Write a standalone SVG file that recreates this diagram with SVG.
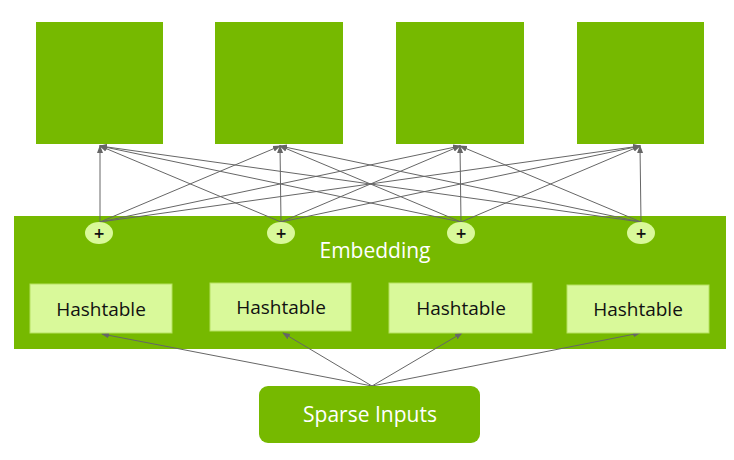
<svg xmlns="http://www.w3.org/2000/svg" width="734" height="460" viewBox="0 0 734 460">
<style>
.g{fill:#76b900}
.h{fill:#d9f99a;stroke:#b5e261;stroke-width:1}
.ht{font-family:"Open Sans","DejaVu Sans",sans-serif;font-size:19px;fill:#111;text-anchor:middle}
.w{font-family:"Open Sans","DejaVu Sans",sans-serif;fill:#fff;text-anchor:middle}
.c{stroke:#666;stroke-width:1;fill:none;marker-end:url(#a)}
.p{fill:#d9f99a}
.pt{font-family:"DejaVu Sans",sans-serif;font-size:14px;font-weight:bold;fill:#111;text-anchor:middle}
</style>
<defs><marker id="a" markerWidth="8" markerHeight="8" refX="7" refY="4" orient="auto" markerUnits="userSpaceOnUse"><path d="M0,1 L8,4 L0,7 Z" fill="#666"/></marker></defs>
<g id="out1"><rect class="g" x="36" y="22" width="127" height="122"/></g>
<g id="out2"><rect class="g" x="215" y="22" width="128" height="122"/></g>
<g id="out3"><rect class="g" x="396" y="22" width="128" height="122"/></g>
<g id="out4"><rect class="g" x="577" y="22" width="127" height="122"/></g>
<g id="embedding"><rect class="g" x="14" y="216" width="712" height="133"/>
<text class="w" x="375" y="258" font-size="21">Embedding</text></g>
<g id="connectors">
<path class="c" d="M100,222 L100,146"/><path class="c" d="M100,222 L280,146"/><path class="c" d="M100,222 L460,146"/><path class="c" d="M100,222 L640,146"/>
<path class="c" d="M281,222 L100,146"/><path class="c" d="M281,222 L280,146"/><path class="c" d="M281,222 L460,146"/><path class="c" d="M281,222 L640,146"/>
<path class="c" d="M461,222 L100,146"/><path class="c" d="M461,222 L280,146"/><path class="c" d="M461,222 L460,146"/><path class="c" d="M461,222 L640,146"/>
<path class="c" d="M641,222 L100,146"/><path class="c" d="M641,222 L280,146"/><path class="c" d="M641,222 L460,146"/><path class="c" d="M641,222 L640,146"/>
<path class="c" d="M372,386 L102,334"/><path class="c" d="M372,386 L283,333"/><path class="c" d="M372,386 L462,333"/><path class="c" d="M372,386 L640,333"/>
</g>
<g id="plus1"><ellipse class="p" cx="99" cy="233" rx="14" ry="11"/><text class="pt" x="99" y="238">+</text></g>
<g id="plus2"><ellipse class="p" cx="281" cy="233" rx="14" ry="11"/><text class="pt" x="281" y="238">+</text></g>
<g id="plus3"><ellipse class="p" cx="461" cy="233" rx="14" ry="11"/><text class="pt" x="461" y="238">+</text></g>
<g id="plus4"><ellipse class="p" cx="641" cy="233" rx="14" ry="11"/><text class="pt" x="641" y="238">+</text></g>
<g id="hash1"><rect class="h" x="30" y="284" width="142" height="49"/><text class="ht" x="101" y="316">Hashtable</text></g>
<g id="hash2"><rect class="h" x="210" y="283" width="141" height="48"/><text class="ht" x="281" y="314">Hashtable</text></g>
<g id="hash3"><rect class="h" x="389" y="283" width="143" height="50"/><text class="ht" x="461" y="315">Hashtable</text></g>
<g id="hash4"><rect class="h" x="567" y="285" width="142" height="48"/><text class="ht" x="638" y="316">Hashtable</text></g>
<g id="sparse"><rect class="g" x="259" y="386" width="221" height="57" rx="9"/><text class="w" x="370" y="422" font-size="21">Sparse Inputs</text></g>
</svg>
